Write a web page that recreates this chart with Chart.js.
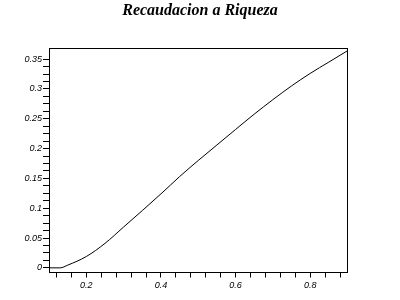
<!DOCTYPE html>
<html>
<head>
<meta charset="utf-8">
<script src="https://cdn.jsdelivr.net/npm/chart.js@4"></script>
<style>
html,body{margin:0;padding:0;background:#fff;}
#wrap{width:400px;height:300px;}
</style>
</head>
<body>
<div id="wrap"><canvas id="c" width="400" height="300"></canvas></div>
<script>
const chartTitle = "Recaudacion a Riqueza";
const xValues = [0.10, 0.13, 0.15, 0.20, 0.25, 0.30, 0.35, 0.40, 0.45, 0.50, 0.55, 0.60, 0.65, 0.70, 0.75, 0.80, 0.85, 0.90];
const yValues = [0.000, 0.000, 0.0045, 0.019, 0.041, 0.0685, 0.096, 0.124, 0.153, 0.180, 0.206, 0.232, 0.2577, 0.282, 0.305, 0.326, 0.345, 0.364];
const xTickValues = [0.12, 0.16, 0.20, 0.24, 0.28, 0.32, 0.36, 0.40, 0.44, 0.48, 0.52, 0.56, 0.60, 0.64, 0.68, 0.72, 0.76, 0.80, 0.84, 0.88];
const xTickLabels = ["0.2", "0.4", "0.6", "0.8"];
const yTickValues = [0, 0.0125, 0.025, 0.0375, 0.05, 0.0625, 0.075, 0.0875, 0.1, 0.1125, 0.125, 0.1375, 0.15, 0.1625, 0.175, 0.1875, 0.2, 0.2125, 0.225, 0.2375, 0.25, 0.2625, 0.275, 0.2875, 0.3, 0.3125, 0.325, 0.3375, 0.35];
const yTickLabels = ["0", "0.05", "0.1", "0.15", "0.2", "0.25", "0.3", "0.35"];
const xRange = [0.1, 0.9];
const yRange = [-0.0078, 0.3686];

const points = xValues.map((x, i) => ({x: x, y: yValues[i]}));
function fmt(v){ return String(Math.round(v * 10000) / 10000); }
const tickFont = {family: "'Liberation Sans', Arial, sans-serif", size: 9, style: 'italic'};

new Chart(document.getElementById('c'), {
  type: 'line',
  data: {datasets: [{data: points, borderColor: '#000', borderWidth: 1, pointRadius: 0, fill: false, cubicInterpolationMode: 'monotone'}]},
  options: {
    responsive: false, animation: false,
    layout: {padding: 0},
    plugins: {
      legend: {display: false}, tooltip: {enabled: false},
      title: {display: true, text: chartTitle, color: '#000',
        font: {family: "'Liberation Serif', 'Times New Roman', serif", size: 16, weight: 'bold', style: 'italic'},
        padding: {top: 1, bottom: 27.8}}
    },
    scales: {
      x: {type: 'linear', min: xRange[0], max: xRange[1],
        afterBuildTicks: s => { s.ticks = xTickValues.map(v => ({value: v})); },
        afterFit: s => { s.height = 27.5; },
        ticks: {autoSkip: false, maxRotation: 0, color: '#000', font: tickFont, padding: 3,
          callback: v => xTickLabels.includes(fmt(v)) ? fmt(v) : ''},
        grid: {display: true, drawOnChartArea: false, drawTicks: true, tickLength: 5, color: '#000'},
        border: {display: true, color: '#000', width: 1}},
      y: {type: 'linear', min: yRange[0], max: yRange[1],
        afterBuildTicks: s => { s.ticks = yTickValues.map(v => ({value: v})); },
        afterFit: s => { s.width = 49; },
        ticks: {autoSkip: false, color: '#000', font: tickFont, padding: 1,
          callback: v => yTickLabels.includes(fmt(v)) ? fmt(v) : ''},
        grid: {display: true, drawOnChartArea: false, drawTicks: true, tickLength: 6, color: '#000'},
        border: {display: true, color: '#000', width: 1}},
      xTop: {type: 'linear', position: 'top', min: xRange[0], max: xRange[1],
        afterFit: s => { s.height = 0; },
        ticks: {display: false}, grid: {display: false, drawTicks: false},
        border: {display: true, color: '#000', width: 1}},
      yRight: {type: 'linear', position: 'right', min: yRange[0], max: yRange[1],
        afterFit: s => { s.width = 52.5; },
        ticks: {display: false}, grid: {display: false, drawTicks: false},
        border: {display: true, color: '#000', width: 1}}
    }
  }
});
</script>
</body>
</html>
